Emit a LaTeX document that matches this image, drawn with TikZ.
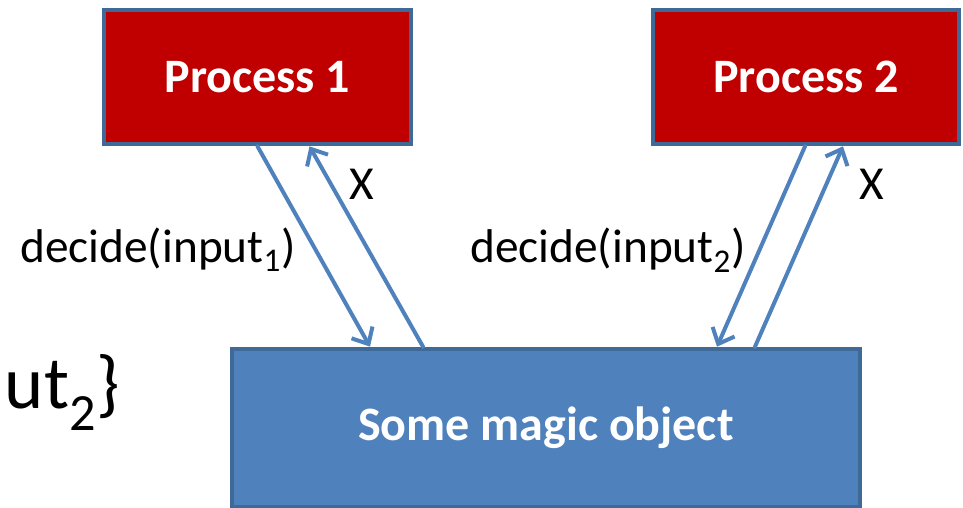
\documentclass[tikz,border=0pt]{standalone}
\usepackage{fontspec}
\setmainfont{Carlito}
\usetikzlibrary{arrows.meta,calc}
\definecolor{procred}{HTML}{C00000}
\definecolor{objblue}{HTML}{4F81BD}
\definecolor{rimblue}{HTML}{3F6A98}
\begin{document}
\begin{tikzpicture}[x=0.75pt,y=-0.75pt,
  procbox/.style={draw=rimblue, line width=3pt, fill=procred, text=white,
    font=\bfseries\fontsize{36}{42}\selectfont, inner sep=0pt,
    minimum width=230pt, minimum height=101pt},
  objbox/.style={draw=rimblue, line width=3pt, fill=objblue, text=white,
    font=\bfseries\fontsize{36}{42}\selectfont, inner sep=0pt,
    minimum width=471pt, minimum height=119pt},
  lbl/.style={font=\fontsize{35.5}{42}\selectfont, inner sep=0pt},
  msg/.style={draw=objblue, line width=3pt, line cap=round,
    -{Straight Barb[length=10pt,width=18pt,line width=3pt]}}]
\useasboundingbox (0,0) rectangle (963,507);
\clip (0,0) rectangle (963,507);

% boxes
\node[procbox] (p1) at (257.5,77) {Process 1};
\node[procbox] (p2) at (806,77) {Process 2};
\node[objbox] (obj) at (546,428) {Some magic object};

% cut-off text on the left
\node[font=\fontsize{56}{62}\selectfont, inner sep=0pt, anchor=base east] (set) at (120,408) {ut\textsubscript{2}\}};

% calls and answers
\draw[msg] (p1.south) -- ($(obj.north)+(-176,0)$);
\draw[msg] ($(obj.north)+(-123,0)$) -- ($(p1.south)+(52,0)$);
\draw[msg] ($(p2.south)+(-1,0)$) -- ($(obj.north)+(171,0)$);
\draw[msg] ($(obj.north)+(209,0)$) -- ($(p2.south)+(37,0)$);

% labels
\node[lbl, anchor=base west] (in1) at (20,262) {decide(input\textsubscript{1})};
\node[lbl, anchor=base west] (in2) at (470,262) {decide(input\textsubscript{2})};
\node[lbl] (x1) at (362,184) {X};
\node[lbl] (x2) at (872,184) {X};

\end{tikzpicture}
\end{document}
